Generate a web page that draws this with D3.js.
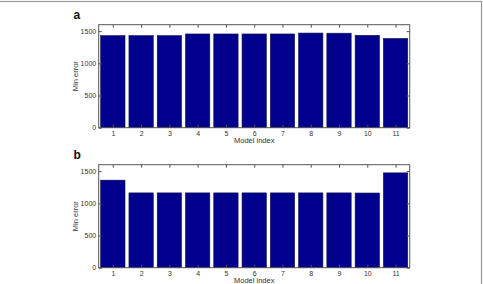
<!DOCTYPE html>
<html>
<head>
<meta charset="utf-8">
<script src="https://cdn.jsdelivr.net/npm/d3@7"></script>
<style>
  body { margin: 0; background: #fff; }
  svg { display: block; font-family: "Liberation Sans", Arial, sans-serif; }
</style>
</head>
<body>
<svg id="chart"></svg>
<script>
const models = [1, 2, 3, 4, 5, 6, 7, 8, 9, 10, 11];
const errorsA = [1430, 1430, 1430, 1456, 1456, 1456, 1456, 1470, 1468, 1435, 1386];
const errorsB = [1360, 1162, 1162, 1162, 1162, 1162, 1162, 1162, 1162, 1160, 1473];
const yTicks = [0, 500, 1000, 1500];

const width = 483;
const height = 284;

const svg = d3.select("#chart").attr("width", width).attr("height", height);

// outer figure frame (only top and right edges are visible)
svg.append("rect")
  .attr("x", -2).attr("y", 1.5)
  .attr("width", 483.5).attr("height", 320)
  .attr("fill", "none")
  .attr("stroke", "#9a9a9a")
  .attr("stroke-width", 1.2);

function drawPanel(values, label, top) {
  const left = 98.7, right = 409.7, bottom = top + 103;

  const x = d3.scaleLinear().domain([0.5, 11.5]).range([left, right]);
  const y = d3.scaleLinear().domain([0, 1600]).range([bottom, top]);
  const bw = (x(1) - x(0)) * 0.86;

  const g = svg.append("g");

  g.selectAll("rect.bar")
    .data(values)
    .enter()
    .append("rect")
    .attr("class", "bar")
    .attr("x", (d, i) => x(models[i]) - bw / 2)
    .attr("y", (d) => y(d))
    .attr("width", bw)
    .attr("height", (d) => y(0) - y(d))
    .attr("fill", "#00008c")
    .attr("stroke", "#10104a")
    .attr("stroke-width", 0.6);

  // axes box
  g.append("rect")
    .attr("x", left).attr("y", top)
    .attr("width", right - left).attr("height", bottom - top)
    .attr("fill", "none")
    .attr("stroke", "#555")
    .attr("stroke-width", 1);

  // inward ticks, all four sides
  const axisStyle = (sel) => {
    sel.select(".domain").remove();
    sel.selectAll(".tick line").attr("stroke", "#555");
    sel.selectAll(".tick text")
      .attr("fill", "#333")
      .style("font-size", "7px");
  };

  g.append("g")
    .attr("transform", `translate(0,${bottom})`)
    .call(d3.axisBottom(x).tickValues(models).tickSizeInner(-3).tickSizeOuter(0).tickPadding(3.5))
    .call(axisStyle);
  g.append("g")
    .attr("transform", `translate(0,${top})`)
    .call(d3.axisTop(x).tickValues(models).tickSizeInner(-3).tickSizeOuter(0).tickFormat(""))
    .call(axisStyle);
  g.append("g")
    .attr("transform", `translate(${left},0)`)
    .call(d3.axisLeft(y).tickValues(yTicks).tickSizeInner(-3).tickSizeOuter(0).tickPadding(2.5).tickFormat(d3.format("d")))
    .call(axisStyle);
  g.append("g")
    .attr("transform", `translate(${right},0)`)
    .call(d3.axisRight(y).tickValues(yTicks).tickSizeInner(-3).tickSizeOuter(0).tickFormat(""))
    .call(axisStyle);

  // axis titles
  g.append("text")
    .attr("x", (left + right) / 2)
    .attr("y", bottom + 15.6)
    .attr("text-anchor", "middle")
    .attr("fill", "#333")
    .style("font-size", "7.5px")
    .text("Model index");

  g.append("text")
    .attr("transform", `translate(${left - 21},${(top + bottom) / 2}) rotate(-90)`)
    .attr("text-anchor", "middle")
    .attr("fill", "#333")
    .style("font-size", "7.5px")
    .text("Min error");

  // panel letter
  g.append("text")
    .attr("x", 73.5)
    .attr("y", top - 5.5)
    .attr("fill", "#111")
    .style("font-size", "12px")
    .style("font-weight", "bold")
    .text(label);
}

drawPanel(errorsA, "a", 24.7);
drawPanel(errorsB, "b", 164.7);
</script>
</body>
</html>
